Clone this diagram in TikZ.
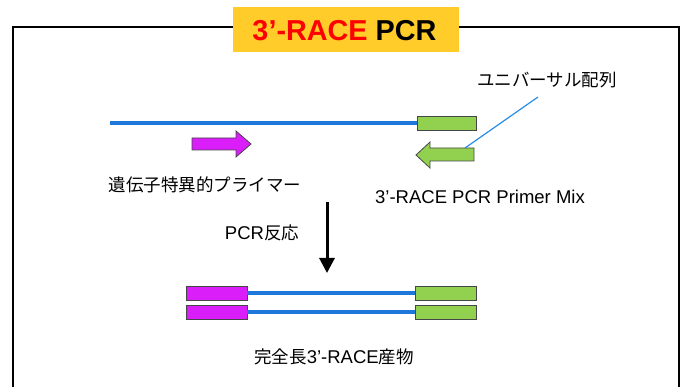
\documentclass[tikz,border=0pt]{standalone}
\usepackage{fontspec}
\setmainfont{Liberation Sans}
\newfontfamily\jp[Scale=0.946]{Noto Sans CJK JP}
\usetikzlibrary{arrows.meta}
\definecolor{titlebg}{RGB}{255,204,41}
\definecolor{mag}{RGB}{218,30,250}
\definecolor{grn}{RGB}{146,208,80}
\definecolor{strand}{RGB}{30,120,220}
\definecolor{leader}{RGB}{40,140,230}
\definecolor{edge}{RGB}{70,70,70}
\tikzset{
  lbl/.style={font=\fontsize{18.5}{21}\selectfont, inner sep=0pt},
  strandline/.style={strand, line width=3.5pt},
  gbox/.style={fill=grn, draw=edge, line width=0.8pt},
  mbox/.style={fill=mag, draw=edge, line width=0.8pt},
}
\begin{document}
\begin{tikzpicture}[x=1pt,y=-1pt]
\useasboundingbox (0,0) rectangle (686,387);
% frame
\draw[black, line width=1.5pt] (13,387) -- (13,27) -- (679,27) -- (679,387);
% title
\node[fill=titlebg, minimum width=226pt, minimum height=45pt, inner sep=0pt] (title) at (346,29.5) {};
\node[font=\fontsize{28.8}{30}\selectfont\bfseries, inner sep=0pt, anchor=base] (ttext) at (344.5,41) {\textcolor{red}{3’-RACE} PCR};
% top template
\node[gbox, minimum width=59pt, minimum height=14pt, inner sep=0pt] (g1) at (447,123) {};
\coordinate (tl) at (110,123);
\draw[strandline] (tl) -- (g1.west);
% primers
\draw[mbox, line join=miter] (192,138) -- (236,138) -- (236,131) -- (251,144) -- (236,157) -- (236,150) -- (192,150) -- cycle;
\draw[gbox, line join=miter] (474,148) -- (430,148) -- (430,142) -- (416,155) -- (430,168) -- (430,161) -- (474,161) -- cycle;
\coordinate (lstart) at (465,148);
\coordinate (lend) at (538,97);
\draw[leader, line width=1.2pt] (lstart) -- (lend);
% labels
\node[lbl] (uni) at (547,80) {\jp ユニバーサル配列};
\node[lbl] (gsp) at (205,185) {\jp 遺伝子特異的プライマー};
\node[lbl] (mix) at (480,197) {3’-RACE PCR Primer Mix};
\node[lbl] (pcr) at (262,233) {PCR{\jp 反応}};
% reaction arrow
\coordinate (a1) at (327,202);
\coordinate (a2) at (327,273);
\draw[black, line width=3pt, -{Triangle[length=15pt,width=15pt]}] (a1) -- (a2);
% products
\node[mbox, minimum width=61pt, minimum height=14pt, inner sep=0pt] (m1) at (216.5,293) {};
\node[mbox, minimum width=61pt, minimum height=14pt, inner sep=0pt] (m2) at (216.5,312) {};
\node[gbox, minimum width=61pt, minimum height=14pt, inner sep=0pt] (g2) at (445.5,293) {};
\node[gbox, minimum width=61pt, minimum height=14pt, inner sep=0pt] (g3) at (445.5,312) {};
\draw[strandline] (m1.east) -- (g2.west);
\draw[strandline] (m2.east) -- (g3.west);
\node[lbl] (prod) at (334,357) {{\jp 完全長}3’-RACE{\jp 産物}};
\end{tikzpicture}
\end{document}
